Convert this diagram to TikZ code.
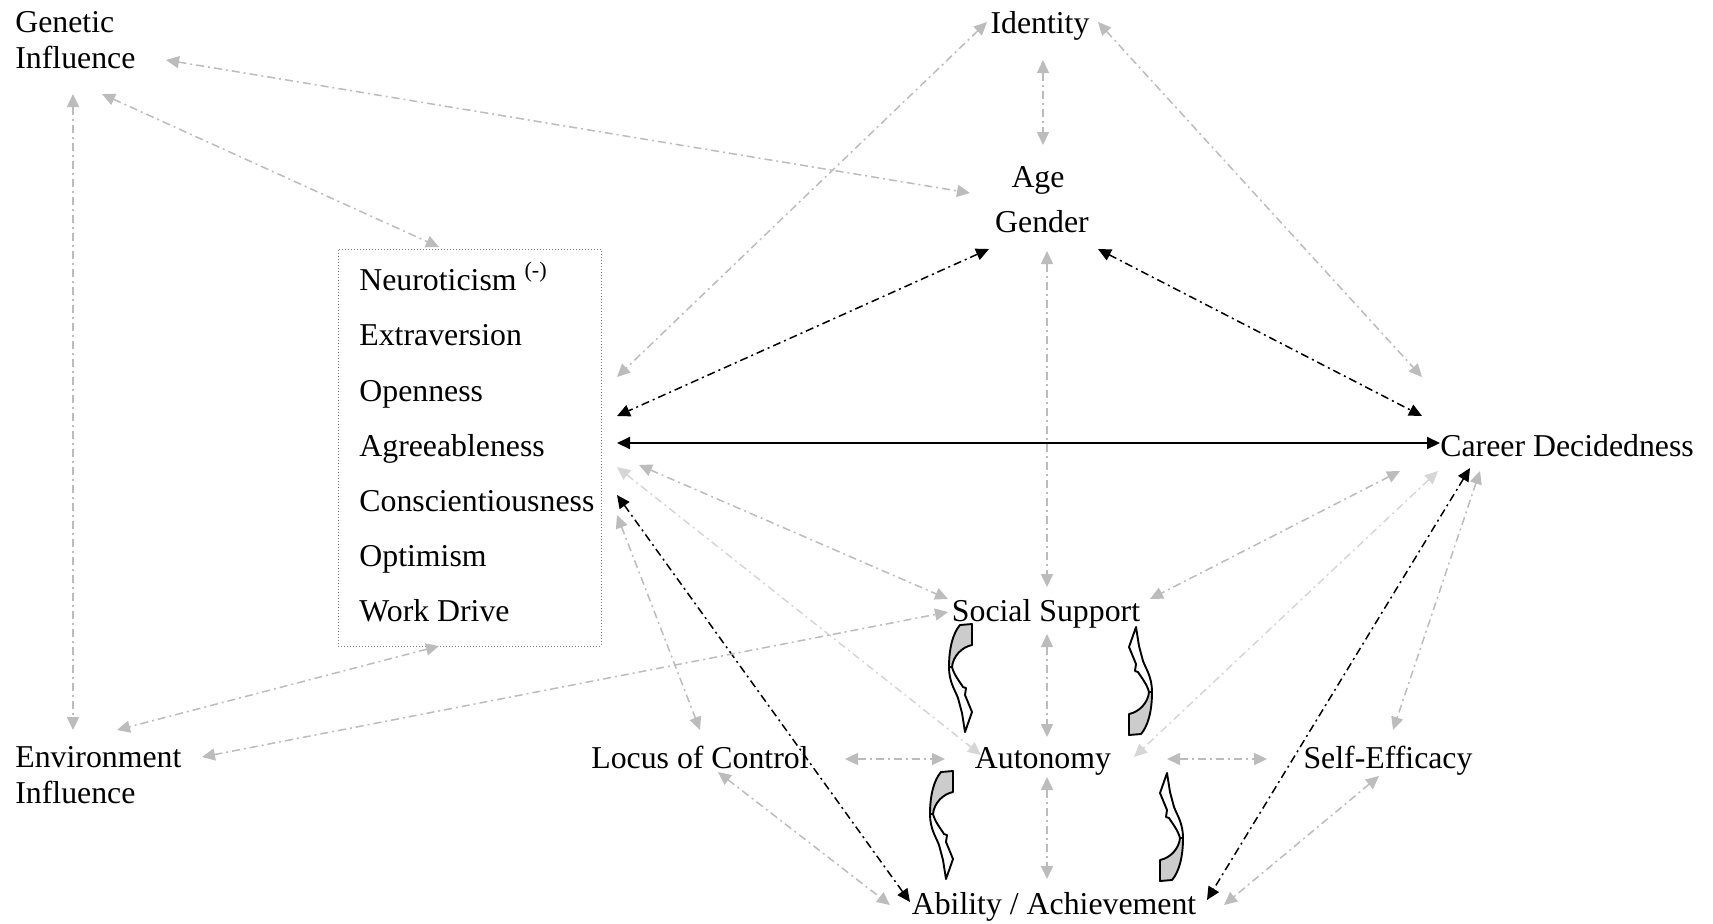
\documentclass[tikz,border=0pt]{standalone}
\usepackage{fontspec}
\setmainfont{Liberation Serif}
\usetikzlibrary{arrows.meta}
\definecolor{lg}{RGB}{188,188,188}
\definecolor{llg}{RGB}{214,214,214}
\definecolor{cfill}{RGB}{204,204,204}
\tikzset{
  lbl/.style={inner sep=0pt, font=\fontsize{15.9}{18}\selectfont},
  one/.style={lbl, text height=0.66em, text depth=0.1em},
  conn/.style={line width=0.75pt, dash pattern=on 4pt off 2pt on 1pt off 2pt, {Triangle[length=6.5pt,width=6pt]}-{Triangle[length=6.5pt,width=6pt]}},
  garr/.style={conn, color=lg},
  larr/.style={conn, color=llg},
  barr/.style={conn, color=black},
  sarr/.style={line width=1pt, color=black, {Triangle[length=6.5pt,width=6pt]}-{Triangle[length=6.5pt,width=6pt]}},
  curv/.pic={
    \filldraw[fill=cfill, line width=0.95pt, line join=round]
      (0,-53) -- (12,-54) -- (12,-33) .. controls (2,-31) and (-7,-22) .. (-8,-11)
      -- (-11,-11) .. controls (-11,-30) and (-7,-45) .. (0,-53) -- cycle;
    \filldraw[fill=white, line width=0.95pt, line join=round]
      (-11,-11) -- (-8,-11) .. controls (-6,-3) and (0,4) .. (3,9) -- (6,10) -- (5,17)
      -- (12,34) -- (5,54) -- (2,35) -- (-2,20) .. controls (-5,12) and (-11,4) .. (-11,-11) -- cycle;
  }
}
\begin{document}
\begin{tikzpicture}[x=0.5pt,y=-0.5pt]
\useasboundingbox (0,0) rectangle (1713,923);
% text nodes
\node[lbl,anchor=west,align=left] (gen) at (15,40) {Genetic\\Influence};
\node[lbl,anchor=west,align=left] (env) at (15,775) {Environment\\Influence};
\node[one] (idn) at (1040,27.5) {Identity};
\node[one] (age) at (1038,181.5) {Age};
\node[one] (gdr) at (1042,226.5) {Gender};
\node[draw=gray, densely dotted, line width=0.5pt, minimum width=131.5pt, minimum height=198.5pt, inner sep=0pt] (box) at (469.5,447.5) {};
\node[one,anchor=west] (t1) at (359,284.5) {Neuroticism \textsuperscript{(-)}};
\node[one,anchor=west] (t2) at (359,339.5) {Extraversion};
\node[one,anchor=west] (t3) at (359,395.5) {Openness};
\node[one,anchor=west] (t4) at (359,450.5) {Agreeableness};
\node[one,anchor=west] (t5) at (359,505.5) {Conscientiousness};
\node[one,anchor=west] (t6) at (359,560.5) {Optimism};
\node[one,anchor=west] (t7) at (359,615.5) {Work Drive};
\node[one,anchor=west] (car) at (1440,450.5) {Career Decidedness};
\node[one] (soc) at (1046,615.5) {Social Support};
\node[one] (loc) at (700,762.5) {Locus of Control};
\node[one] (aut) at (1043,762.5) {Autonomy};
\node[one] (sef) at (1388,762.5) {Self-Efficacy};
\node[one] (abl) at (1054,909) {Ability / Achievement};
% connector end points
\coordinate (gA) at (166,60);   \coordinate (agA) at (970,193);
\coordinate (gB) at (102,94);   \coordinate (bxT) at (439,247);
\coordinate (gC) at (73,94);    \coordinate (eT) at (73,730);
\coordinate (iB) at (1043,60);  \coordinate (aT) at (1043,145);
\coordinate (iL) at (987,22);   \coordinate (bx1) at (617,377);
\coordinate (iR) at (1098,22);  \coordinate (c1) at (1422,377);
\coordinate (gL) at (989,249);  \coordinate (bx2) at (617,416);
\coordinate (gR) at (1098,249); \coordinate (c2) at (1422,416);
\coordinate (bx3) at (617,443); \coordinate (c3) at (1440,443);
\coordinate (gD) at (1047,251); \coordinate (sT) at (1047,587);
\coordinate (bx4) at (639,465); \coordinate (sL) at (948,599);
\coordinate (bx5) at (617,467); \coordinate (auL) at (981,755);
\coordinate (bx6) at (617,495); \coordinate (abL) at (910,902);
\coordinate (bx7) at (617,515); \coordinate (lT) at (700,730);
\coordinate (bxB) at (439,646); \coordinate (eR) at (117,730);
\coordinate (eM) at (202,757);  \coordinate (sL2) at (948,612);
\coordinate (c4) at (1400,471); \coordinate (sR) at (1150,599);
\coordinate (c5) at (1438,471); \coordinate (auR) at (1134,757);
\coordinate (c6) at (1470,468); \coordinate (abR) at (1207,900);
\coordinate (c7) at (1480,471); \coordinate (seT) at (1393,730);
\coordinate (sB) at (1047,634); \coordinate (auT) at (1047,737);
\coordinate (auB) at (1047,777);\coordinate (abT) at (1047,879);
\coordinate (lR) at (845,759);  \coordinate (auW) at (945,759);
\coordinate (auE) at (1167,759);\coordinate (seL) at (1267,759);
\coordinate (lB) at (718,772);  \coordinate (abL2) at (890,905);
\coordinate (seB) at (1379,776);\coordinate (abR2) at (1224,905);
% connectors
\draw[garr] (gA) -- (agA);
\draw[garr] (gB) -- (bxT);
\draw[garr] (gC) -- (eT);
\draw[garr] (iB) -- (aT);
\draw[garr] (iL) -- (bx1);
\draw[garr] (iR) -- (c1);
\draw[barr] (gL) -- (bx2);
\draw[barr] (gR) -- (c2);
\draw[sarr] (bx3) -- (c3);
\draw[garr] (gD) -- (sT);
\draw[garr] (bx4) -- (sL);
\draw[larr] (bx5) -- (auL);
\draw[barr] (bx6) -- (abL);
\draw[garr] (bx7) -- (lT);
\draw[garr] (bxB) -- (eR);
\draw[garr] (eM) -- (sL2);
\draw[garr] (c4) -- (sR);
\draw[larr] (c5) -- (auR);
\draw[barr] (c6) -- (abR);
\draw[garr] (c7) -- (seT);
\draw[garr] (sB) -- (auT);
\draw[garr] (auB) -- (abT);
\draw[garr] (lR) -- (auW);
\draw[garr] (auE) -- (seL);
\draw[garr] (lB) -- (abL2);
\draw[garr] (seB) -- (abR2);
% curved block arrows
\pic at (960,678) {curv};
\pic[rotate=180] at (1141,681) {curv};
\pic at (941,825) {curv};
\pic[rotate=180] at (1172,827) {curv};
\end{tikzpicture}
\end{document}
